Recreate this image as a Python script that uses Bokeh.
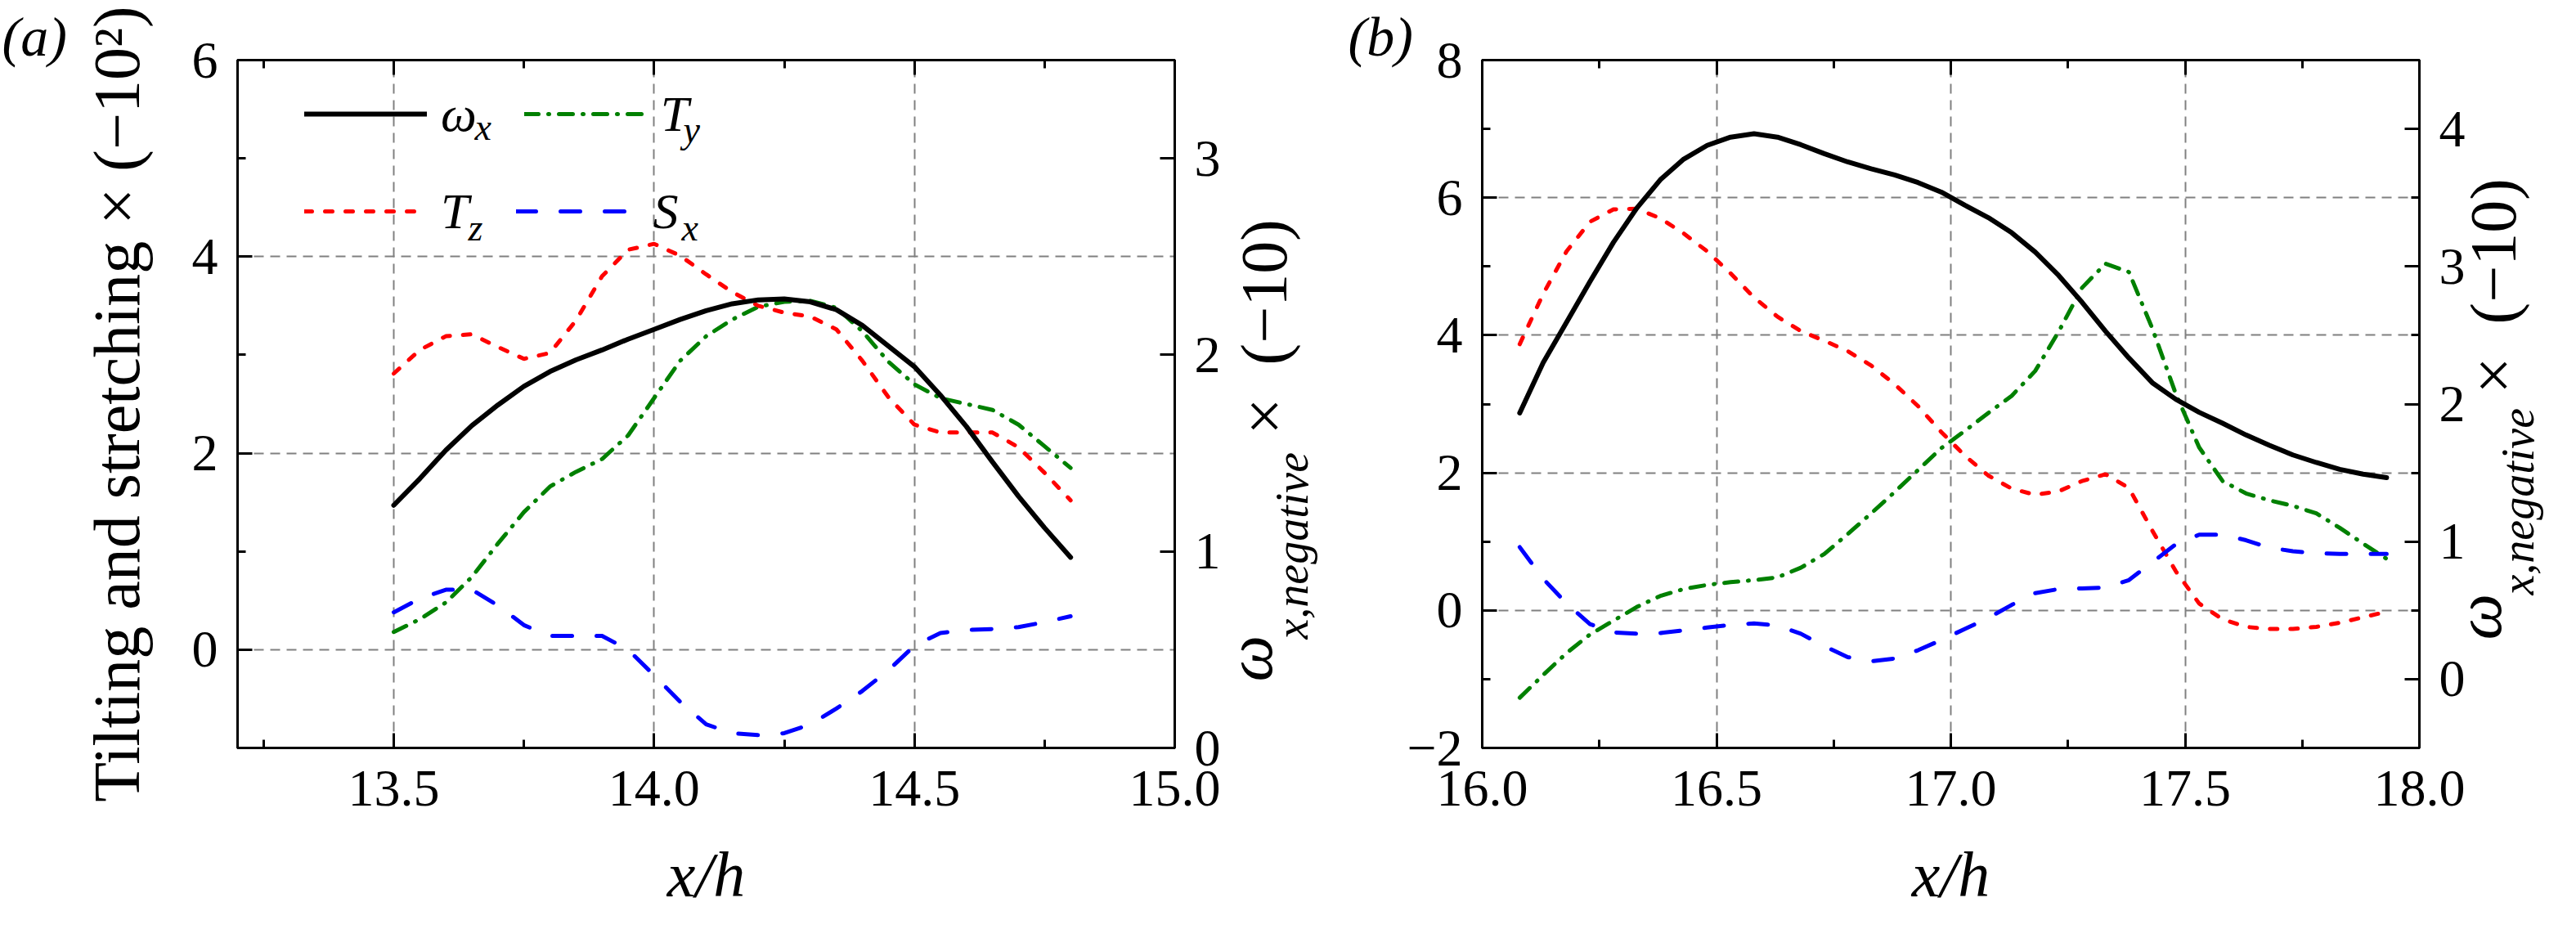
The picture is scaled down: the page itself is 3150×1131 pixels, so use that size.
import math
from bokeh.plotting import figure
from bokeh.layouts import row
from bokeh.models import (Range1d, LinearAxis, FixedTicker, NumeralTickFormatter,
                          Label, Legend, LegendItem, Title)
from bokeh.embed import file_html
from bokeh.resources import INLINE

FONT = "Liberation Serif"

# ---------------- panel (a) data ----------------
x_a = [13.50, 13.55, 13.60, 13.65, 13.70, 13.75, 13.80, 13.85, 13.90, 13.95,
       14.00, 14.05, 14.10, 14.15, 14.20, 14.25, 14.30, 14.35, 14.40, 14.45,
       14.50, 14.55, 14.60, 14.65, 14.70, 14.75, 14.80]
# omega_x plotted on the right axis (omega_x,negative x (-10))
omega_a = [1.235, 1.37, 1.515, 1.64, 1.745, 1.84, 1.915, 1.975, 2.025, 2.08,
           2.13, 2.18, 2.225, 2.26, 2.28, 2.285, 2.27, 2.23, 2.15, 2.045,
           1.94, 1.795, 1.635, 1.455, 1.28, 1.12, 0.97]
ty_a = [0.18, 0.31, 0.48, 0.74, 1.08, 1.40, 1.66, 1.81, 1.94, 2.18,
        2.56, 2.94, 3.19, 3.36, 3.49, 3.54, 3.55, 3.48, 3.24, 2.93,
        2.70, 2.56, 2.50, 2.44, 2.29, 2.07, 1.85]
tz_a = [2.81, 3.05, 3.19, 3.21, 3.08, 2.96, 3.02, 3.35, 3.80, 4.07,
        4.13, 4.01, 3.82, 3.64, 3.50, 3.43, 3.39, 3.26, 2.94, 2.57,
        2.29, 2.21, 2.21, 2.21, 2.06, 1.80, 1.52]
sx_a = [0.38, 0.52, 0.61, 0.61, 0.45, 0.25, 0.14, 0.14, 0.14, 0.00,
        -0.26, -0.53, -0.76, -0.85, -0.87, -0.85, -0.76, -0.60, -0.42, -0.21,
        0.04, 0.17, 0.20, 0.21, 0.23, 0.28, 0.34]

# ---------------- panel (b) data ----------------
x_b = [16.08, 16.13, 16.18, 16.23, 16.28, 16.33, 16.38, 16.43, 16.48, 16.53,
       16.58, 16.63, 16.68, 16.73, 16.78, 16.83, 16.88, 16.93, 16.98, 17.03,
       17.08, 17.13, 17.18, 17.23, 17.28, 17.33, 17.38, 17.43, 17.48, 17.53,
       17.58, 17.63, 17.68, 17.73, 17.78, 17.83, 17.88, 17.93]
omega_b = [1.935, 2.30, 2.595, 2.89, 3.175, 3.425, 3.63, 3.78, 3.88, 3.94,
           3.965, 3.94, 3.885, 3.82, 3.76, 3.71, 3.665, 3.61, 3.54, 3.445,
           3.355, 3.245, 3.105, 2.935, 2.74, 2.53, 2.335, 2.155, 2.035, 1.94,
           1.86, 1.775, 1.70, 1.63, 1.575, 1.525, 1.49, 1.465]
ty_b = [-1.27, -0.94, -0.62, -0.35, -0.15, 0.05, 0.21, 0.31, 0.37, 0.41,
        0.44, 0.48, 0.62, 0.82, 1.11, 1.41, 1.72, 2.04, 2.36, 2.61,
        2.87, 3.12, 3.48, 4.05, 4.69, 5.04, 4.92, 4.10, 3.15, 2.37,
        1.88, 1.70, 1.60, 1.52, 1.41, 1.20, 0.97, 0.75]
tz_b = [3.87, 4.60, 5.22, 5.65, 5.83, 5.84, 5.70, 5.48, 5.22, 4.90,
        4.55, 4.27, 4.06, 3.92, 3.77, 3.56, 3.29, 2.97, 2.59, 2.25,
        1.96, 1.77, 1.68, 1.73, 1.88, 1.98, 1.78, 1.16, 0.57, 0.10,
        -0.13, -0.24, -0.27, -0.27, -0.24, -0.18, -0.10, -0.02]
sx_b = [0.92, 0.46, 0.10, -0.20, -0.32, -0.34, -0.33, -0.29, -0.25, -0.21,
        -0.19, -0.22, -0.34, -0.52, -0.68, -0.74, -0.70, -0.58, -0.43, -0.27,
        -0.11, 0.08, 0.25, 0.31, 0.32, 0.33, 0.44, 0.70, 0.96, 1.10,
        1.10, 1.02, 0.91, 0.86, 0.83, 0.82, 0.82, 0.82]

# ---------------- ranges / ticks ----------------
xr_a, yr_a, rr_a = (13.2, 15.0), (-1.0, 6.0), (0.0, 3.5)
xt_a, xtm_a = [13.5, 14.0, 14.5, 15.0], [13.25, 13.75, 14.25, 14.75]
yt_a, ytm_a = [0, 2, 4, 6], [-1, 1, 3, 5]
rt_a, rtm_a = [0, 1, 2, 3], []

xr_b, yr_b, rr_b = (16.0, 18.0), (-2.0, 8.0), (-0.5, 4.5)
xt_b, xtm_b = [16.0, 16.5, 17.0, 17.5, 18.0], [16.25, 16.75, 17.25, 17.75]
yt_b, ytm_b = [-2, 0, 2, 4, 6, 8], [-1, 1, 3, 5, 7]
rt_b, rtm_b = [0, 1, 2, 3, 4], [0.5, 1.5, 2.5, 3.5]

YLABEL = "Tilting and stretching \u00d7 (\u221210\u00b2)"
XLABEL = "x/h"
RLAB_MAIN = "\u00d7\u2002(\u221210)"
RLAB_SUB = "x,negative"
RLAB_SYM = "\u03c9"

FW, FH = 1146, 841
TOP, BOTTOM = 73, 201
COL_OM, COL_TY, COL_TZ, COL_SX = "black", "#008000", "#ff0000", "#0000ff"


def style_axis(ax, ticks, minor, size="64px", standoff=24):
    ax.ticker = FixedTicker(ticks=ticks, minor_ticks=minor)
    ax.axis_line_width = 3
    ax.axis_line_color = "black"
    ax.major_tick_in = 18
    ax.major_tick_out = 0
    ax.minor_tick_in = 10
    ax.minor_tick_out = 0
    ax.major_tick_line_width = 3
    ax.minor_tick_line_width = 3
    ax.major_tick_line_color = "black"
    ax.minor_tick_line_color = "black"
    ax.major_label_text_font = FONT
    ax.major_label_text_color = "black"
    ax.major_label_text_font_size = size
    ax.major_label_standoff = standoff


def spacer(p, side, gap):
    """a blank title that only reserves about `gap` pixels in a side panel"""
    t = Title(text=" ", text_font=FONT, text_font_size="10px", vertical_align="middle")
    t.standoff = gap - 2 - 9
    p.add_layout(t, side)


def ztitle(p, side, text, size, italic, align="left", offset=0):
    """a title that takes (almost) no room: its text is centred on the panel edge"""
    t = Title(text=text, align=align, offset=offset, vertical_align="middle",
              text_font=FONT, text_font_size=f"{size}px",
              text_font_style="italic" if italic else "normal", text_color="black")
    try:
        t.standoff = -round(0.9 * size)
    except Exception:
        t.standoff = 0
    p.add_layout(t, side)


def make_panel(xr, yr, rr, xt, xtm, yt, ytm, rt, rtm, bl, br, data, tag, tag_offset):
    p = figure(x_range=Range1d(*xr), y_range=Range1d(*yr),
               frame_width=FW, frame_height=FH,
               min_border_left=bl, min_border_right=br,
               min_border_top=TOP, min_border_bottom=BOTTOM,
               output_backend="svg", toolbar_location=None,
               background_fill_color="white", border_fill_color="white")
    p.extra_y_ranges = {"right": Range1d(*rr)}
    p.outline_line_color = "black"
    p.outline_line_width = 3

    ax_b = p.below[0]
    style_axis(ax_b, xt, xtm, standoff=28)
    ax_b.formatter = NumeralTickFormatter(format="0.0")
    spacer(p, "below", 70)
    ztitle(p, "below", XLABEL, 78, True, align="center")

    ax_l = p.left[0]
    style_axis(ax_l, yt, ytm)
    ax_l.major_label_overrides = {-2: "\u22122"}

    # top frame ticks (no labels): long ticks at major positions, short at minor
    for tks, ln in ((xt, 18), (xtm, 10)):
        ax_t = LinearAxis(ticker=FixedTicker(ticks=[], minor_ticks=tks))
        ax_t.axis_line_width = 3
        ax_t.axis_line_color = "black"
        ax_t.major_tick_in = 0
        ax_t.major_tick_out = 0
        ax_t.minor_tick_in = ln
        ax_t.minor_tick_out = 0
        ax_t.minor_tick_line_width = 3
        ax_t.minor_tick_line_color = "black"
        ax_t.major_label_standoff = 0
        p.add_layout(ax_t, "above")
    spacer(p, "above", 18)
    ztitle(p, "above", tag, 68, True, align="left", offset=tag_offset)

    ax_r = LinearAxis(y_range_name="right")
    style_axis(ax_r, rt, rtm)
    p.add_layout(ax_r, "right")

    for g in (p.xgrid, p.ygrid):
        g.grid_line_color = "#808080"
        g.grid_line_width = 2
        g.grid_line_dash = "12 8"

    x, om, ty, tz, sx = data
    r_ty = p.line(x, ty, line_color=COL_TY, line_width=5, line_dash="17 12 1 12", line_cap="round")
    r_tz = p.line(x, tz, line_color=COL_TZ, line_width=5, line_dash="9 16", line_cap="round")
    r_sx = p.line(x, sx, line_color=COL_SX, line_width=5, line_dash="24 30", line_cap="round")
    r_om = p.line(x, om, line_color=COL_OM, line_width=6, y_range_name="right", line_cap="round")
    return p, ax_l, (r_om, r_ty, r_tz, r_sx)


# figure a: page x 8..1504, figure b: 1504..3029, figure c (label strip): 3029..3142
pa, axl_a, (ra_om, ra_ty, ra_tz, ra_sx) = make_panel(
    xr_a, yr_a, rr_a, xt_a, xtm_a, yt_a, ytm_a, rt_a, rtm_a, 290, 60,
    (x_a, omega_a, ty_a, tz_a, sx_a), "(a)", -288)
pb, axl_b, _ = make_panel(
    xr_b, yr_b, rr_b, xt_b, xtm_b, yt_b, ytm_b, rt_b, rtm_b, 316, 63,
    (x_b, omega_b, ty_b, tz_b, sx_b), "(b)", -164)

# ----- panel (a): left axis label -----
axl_a.axis_label = YLABEL
axl_a.axis_label_text_font = FONT
axl_a.axis_label_text_font_size = "80px"
axl_a.axis_label_text_font_style = "normal"
axl_a.axis_label_text_color = "black"
axl_a.axis_label_standoff = 45


# ----- panel (a): legend -----
def make_legend(items, loc):
    return Legend(items=items, orientation="horizontal", location=loc,
                  glyph_width=150, glyph_height=72, label_height=72, label_standoff=17,
                  spacing=58, padding=0, margin=0,
                  border_line_alpha=0, background_fill_alpha=0,
                  label_text_font=FONT, label_text_font_style="italic",
                  label_text_font_size="62px", label_text_color="black")


pa.add_layout(make_legend([LegendItem(label="\u03c9", renderers=[ra_om]),
                           LegendItem(label="T", renderers=[ra_ty])], (82, 739)))
pa.add_layout(make_legend([LegendItem(label="T", renderers=[ra_tz]),
                           LegendItem(label="S", renderers=[ra_sx])], (82, 620)))


def sub(p, sx, sy, text):
    p.add_layout(Label(x=sx, y=sy, x_units="screen", y_units="screen", text=text,
                       text_font=FONT, text_font_size="46px", text_font_style="italic",
                       text_baseline="alphabetic", text_color="black"))


sub(pa, 290, 759, "x")
sub(pa, 545, 756, "y")
sub(pa, 282, 636, "z")
sub(pa, 543, 636, "x")

# ----- right-hand label of panel (a): built in the left strip of figure b -----
# (offsets are measured upward from the frame bottom; text reads bottom-to-top)
spacer(pb, "left", 129)
ztitle(pb, "left", RLAB_SUB, 56, True, offset=133)
spacer(pb, "left", 16)
ztitle(pb, "left", RLAB_MAIN, 80, False, offset=383)
ztitle(pb, "left", RLAB_SYM, 80, True, offset=81)

# ----- right-hand label of panel (b): a narrow strip figure -----
pc = figure(x_range=Range1d(0, 1), y_range=Range1d(0, 1),
            frame_width=1, frame_height=FH,
            min_border_left=112, min_border_right=0,
            min_border_top=TOP, min_border_bottom=BOTTOM,
            x_axis_location=None, y_axis_location=None,
            output_backend="svg", toolbar_location=None,
            background_fill_color="white", border_fill_color="white")
pc.outline_line_color = None
pc.xgrid.visible = False
pc.ygrid.visible = False
spacer(pc, "left", 53)
ztitle(pc, "left", RLAB_SUB, 56, True, offset=187)
spacer(pc, "left", 12)
ztitle(pc, "left", RLAB_MAIN, 80, False, offset=433)
ztitle(pc, "left", RLAB_SYM, 80, True, offset=132)

layout = row(pa, pb, pc)
open("out.html", "w").write(file_html(layout, INLINE))
